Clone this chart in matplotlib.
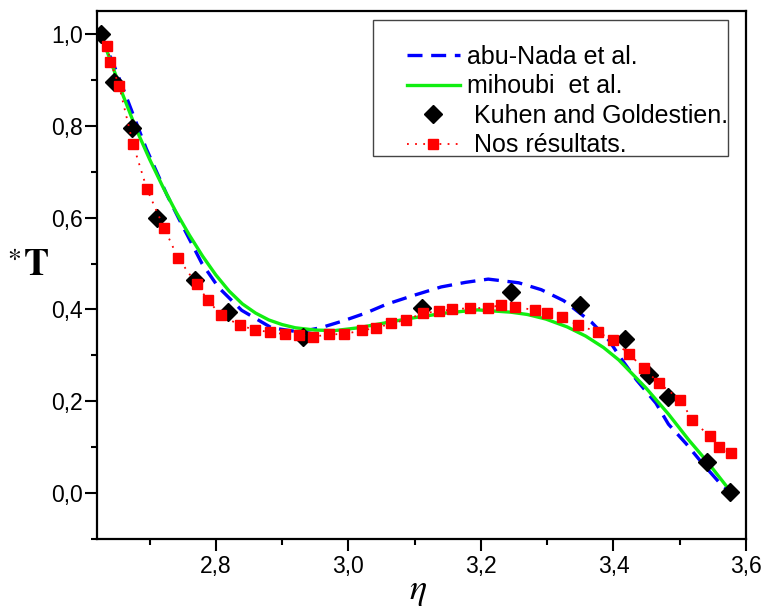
import matplotlib
matplotlib.use("Agg")
import matplotlib.pyplot as plt
from matplotlib.patches import Rectangle
from matplotlib.ticker import MultipleLocator, FuncFormatter

# ---- data ----
abu_x = [2.626, 2.651, 2.675, 2.695, 2.726, 2.744, 2.779, 2.804, 2.839, 2.884, 2.925, 2.958,
         2.992, 3.026, 3.057, 3.095, 3.140, 3.177, 3.211, 3.257, 3.291, 3.325, 3.367, 3.393,
         3.412, 3.435, 3.464, 3.483, 3.510, 3.534, 3.564, 3.576]
abu_y = [1.000, 0.915, 0.825, 0.750, 0.650, 0.598, 0.500, 0.448, 0.398, 0.360, 0.351, 0.360,
         0.375, 0.392, 0.411, 0.429, 0.449, 0.459, 0.466, 0.458, 0.443, 0.419, 0.372, 0.333,
         0.292, 0.246, 0.196, 0.150, 0.107, 0.065, 0.016, 0.004]

mih_x = [2.626, 2.644, 2.660, 2.680, 2.700, 2.720, 2.740, 2.760, 2.780, 2.800, 2.820, 2.840,
         2.860, 2.880, 2.900, 2.920, 2.950, 2.980, 3.015, 3.045, 3.095, 3.146, 3.195, 3.245,
         3.270, 3.298, 3.330, 3.358, 3.385, 3.408, 3.449, 3.483, 3.514, 3.540, 3.570, 3.576]
mih_y = [1.000, 0.930, 0.866, 0.792, 0.727, 0.667, 0.612, 0.562, 0.516, 0.475, 0.440, 0.412,
         0.392, 0.377, 0.367, 0.360, 0.355, 0.354, 0.360, 0.368, 0.381, 0.392, 0.399, 0.394,
         0.389, 0.379, 0.362, 0.342, 0.317, 0.290, 0.229, 0.172, 0.115, 0.071, 0.016, 0.003]

kuh_x = [2.626, 2.647, 2.674, 2.711, 2.768, 2.818, 2.931, 3.111, 3.246, 3.349, 3.417, 3.453,
         3.482, 3.541, 3.576]
kuh_y = [1.000, 0.895, 0.795, 0.600, 0.464, 0.394, 0.340, 0.403, 0.438, 0.410, 0.336, 0.257,
         0.209, 0.068, 0.002]

nos_x = [2.636, 2.641, 2.654, 2.675, 2.696, 2.722, 2.743, 2.771, 2.788, 2.808, 2.836, 2.859,
         2.881, 2.904, 2.925, 2.946, 2.971, 2.994, 3.021, 3.042, 3.065, 3.087, 3.113, 3.137,
         3.157, 3.184, 3.210, 3.231, 3.251, 3.281, 3.299, 3.323, 3.346, 3.376, 3.399, 3.423,
         3.446, 3.468, 3.501, 3.519, 3.545, 3.560, 3.577]
nos_y = [0.974, 0.939, 0.887, 0.760, 0.662, 0.577, 0.512, 0.455, 0.420, 0.387, 0.366, 0.355,
         0.351, 0.346, 0.344, 0.340, 0.346, 0.346, 0.355, 0.359, 0.370, 0.377, 0.392, 0.396,
         0.400, 0.403, 0.403, 0.410, 0.405, 0.399, 0.392, 0.383, 0.366, 0.351, 0.333, 0.303,
         0.272, 0.240, 0.203, 0.159, 0.124, 0.100, 0.087]

labels = ["abu-Nada et al.", "mihoubi  et al.", " Kuhen and Goldestien.", " Nos résultats."]

plt.rcParams['font.family'] = ['Liberation Sans', 'DejaVu Sans']
plt.rcParams['mathtext.fontset'] = 'stix'

fig = plt.figure(figsize=(7.77, 6.10), dpi=100)
ax = fig.add_axes([0.1243, 0.1164, 0.8358, 0.8656])

ax.plot(abu_x, abu_y, color='#0000FF', lw=2.4, dashes=(4.5, 2.6), label=labels[0], zorder=2)
ax.plot(mih_x, mih_y, color='#11EE11', lw=2.4, label=labels[1], zorder=3)
ax.plot(kuh_x, kuh_y, ls='none', marker='D', ms=9, color='black', label=labels[2], zorder=4)
ax.plot(nos_x, nos_y, color='#FF0000', lw=1.3, dashes=(1, 3.5), marker='s', ms=7.5,
        markeredgecolor='#FF0000', label=labels[3], zorder=5)

ax.set_xlim(2.62, 3.6)
ax.set_ylim(-0.1, 1.05)
ax.xaxis.set_major_locator(MultipleLocator(0.2))
ax.xaxis.set_minor_locator(MultipleLocator(0.1))
ax.yaxis.set_major_locator(MultipleLocator(0.2))
ax.yaxis.set_minor_locator(MultipleLocator(0.1))
fmt = FuncFormatter(lambda v, p: f"{v:.1f}".replace('.', ','))
ax.xaxis.set_major_formatter(fmt)
ax.yaxis.set_major_formatter(fmt)
ax.set_xticks([2.8, 3.0, 3.2, 3.4, 3.6])

ax.tick_params(which='major', direction='out', length=8.5, width=1.5, labelsize=16.5)
ax.tick_params(axis='y', which='major', pad=1.5)
ax.tick_params(axis='x', which='major', pad=3)
ax.tick_params(which='minor', direction='out', length=4.5, width=1.5)
for s in ax.spines.values():
    s.set_linewidth(1.6)

ax.set_xlabel(r'$\eta$', fontsize=26)
ax.xaxis.set_label_coords(0.495, -0.098)
ax.xaxis.label.set_va('center')
ax.set_ylabel(r'$^{\ast}\mathbf{T}$', fontsize=27, rotation=0)
ax.yaxis.set_label_coords(-0.105, 0.517)
ax.yaxis.label.set_va('center')
ax.yaxis.label.set_ha('center')

ax.add_patch(Rectangle((0.4256, 0.725), 0.5464, 0.258, transform=ax.transAxes,
                       fill=False, edgecolor='#444444', lw=1.0, zorder=6))
leg = ax.legend(loc='upper left', bbox_to_anchor=(0.478, 0.936), borderaxespad=0,
                frameon=False, fontsize=18, handlelength=2.1, handletextpad=0.3,
                labelspacing=0.22, numpoints=1, borderpad=0)

fig.savefig('out.png', dpi=100)
